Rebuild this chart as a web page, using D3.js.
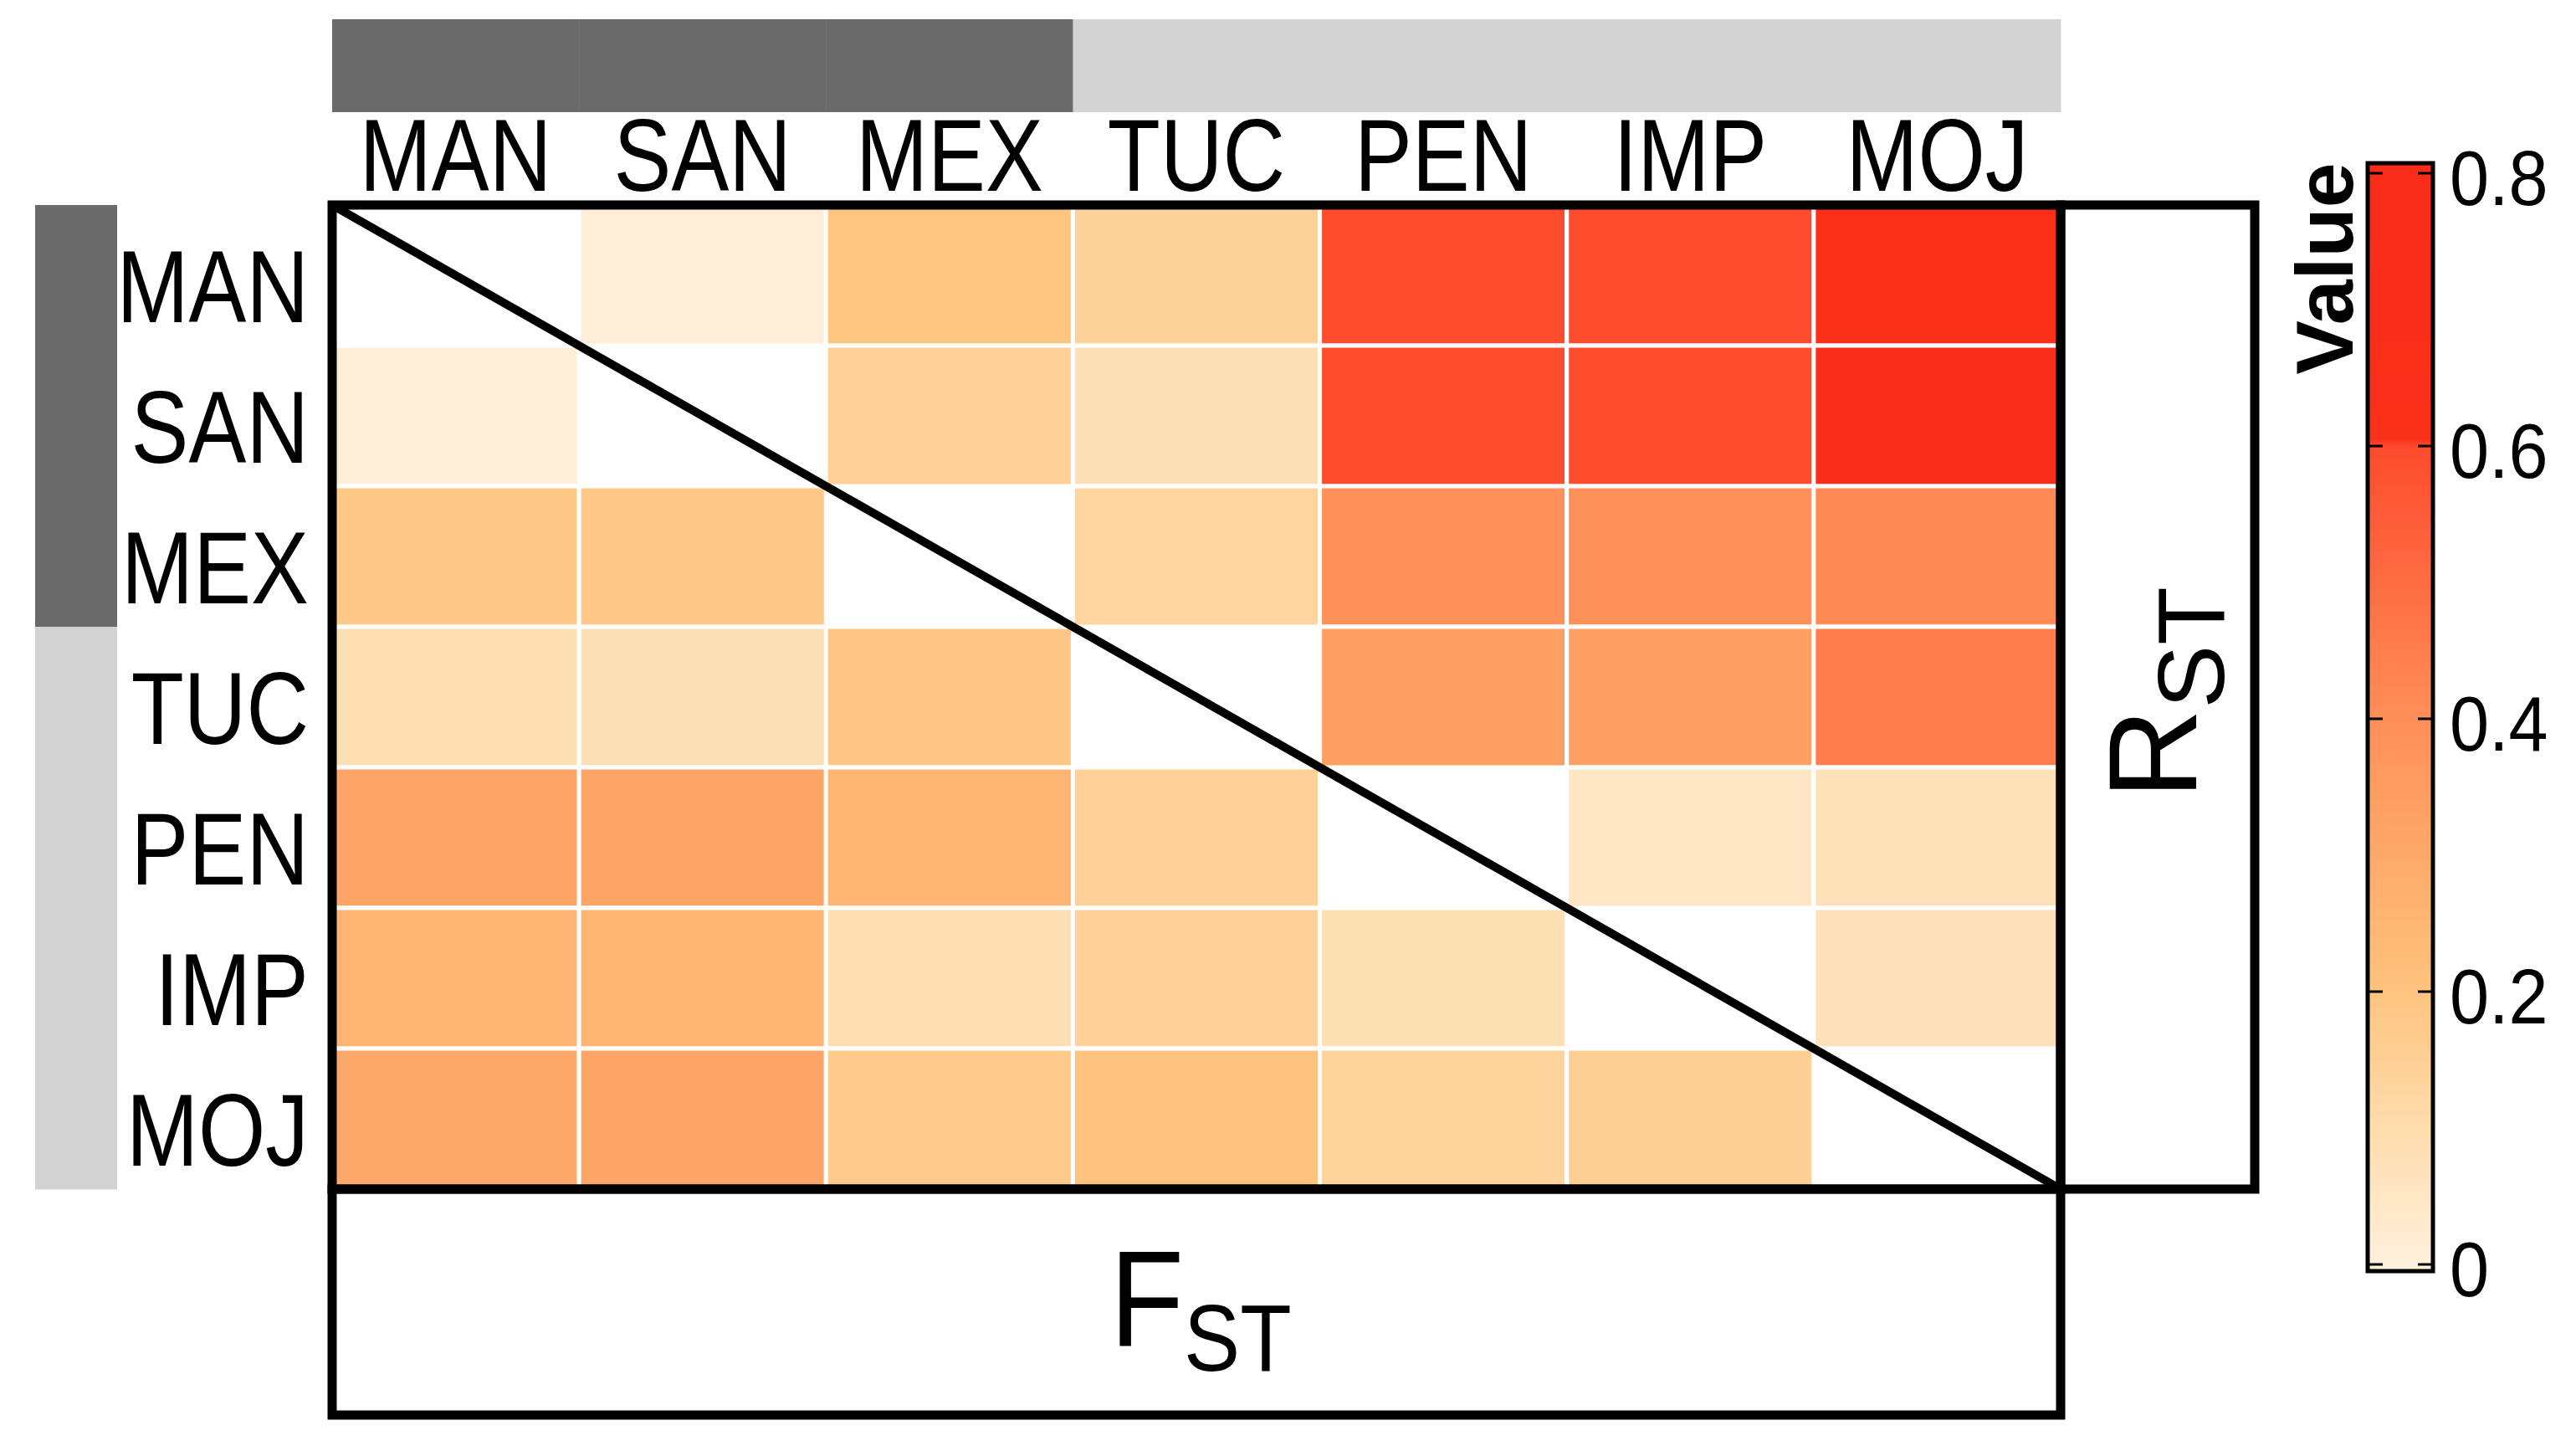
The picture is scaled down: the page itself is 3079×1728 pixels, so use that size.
<!DOCTYPE html>
<html><head><meta charset="utf-8">
<script src="https://cdn.jsdelivr.net/npm/d3@7"></script>
<style>html,body{margin:0;padding:0;background:#fff;} svg{display:block}</style>
</head><body>
<svg id="chart" width="3079" height="1728"></svg>
<script>
// ---------------- data ----------------
const populations = ["MAN","SAN","MEX","TUC","PEN","IMP","MOJ"];
const popGroups   = ["G1","G1","G1","G2","G2","G2","G2"];
const groupColors = {G1:"#6a6a6a", G2:"#d3d3d3"};
// upper triangle = RST, lower triangle = FST (diagonal empty)
const rowMAN = [null, 0.01, 0.195, 0.14, 0.598, 0.598, 0.66];
const rowSAN = [0.01, null, 0.145, 0.08, 0.598, 0.598, 0.70];
const rowMEX = [0.185, 0.185, null, 0.13, 0.395, 0.395, 0.414];
const rowTUC = [0.088, 0.08, 0.19, null, 0.335, 0.335, 0.454];
const rowPEN = [0.32, 0.32, 0.255, 0.145, null, 0.05, 0.075];
const rowIMP = [0.255, 0.255, 0.085, 0.145, 0.082, null, 0.07];
const rowMOJ = [0.305, 0.31, 0.172, 0.2, 0.135, 0.155, null];
const matrixRows = [rowMAN, rowSAN, rowMEX, rowTUC, rowPEN, rowIMP, rowMOJ];
const colorStops = [0, 0.1, 0.2, 0.3, 0.4, 0.5, 0.6, 0.605, 0.8];
const colorRange = ["#fff0dc","#fedcad","#fec47f","#fea96a","#fe8f58","#fe6c44","#fd4b2e","#fa301b","#f82c19"];
const legendTicks = [0, 0.2, 0.4, 0.6, 0.8];
const legendTickLabels = ["0","0.2","0.4","0.6","0.8"];
const legendTitle = "Value";
const upperLabel = ["R","ST"];
const lowerLabel = ["F","ST"];

// ---------------- layout ----------------
const FONT = "'Liberation Sans', Arial, sans-serif";
const svg = d3.select("#chart");
const M = {left:397, right:2463, top:245, bottom:1421};

const x = d3.scaleBand().domain(populations).range([M.left, M.right]).padding(0);
const y = d3.scaleBand().domain(populations).range([M.top, M.bottom]).padding(0);
const color = d3.scaleLinear().domain(colorStops).range(colorRange).clamp(true);

const cells = [];
matrixRows.forEach((row, i) => row.forEach((v, j) => {
  cells.push({r: populations[i], c: populations[j], v});
}));

// cells
svg.append("g").selectAll("rect").data(cells.filter(d => d.v !== null)).join("rect")
  .attr("x", d => x(d.c)).attr("y", d => y(d.r))
  .attr("width", x.bandwidth()).attr("height", y.bandwidth())
  .attr("fill", d => color(d.v))
  .attr("stroke", "#fff").attr("stroke-width", 5);

// top group bar
svg.append("g").selectAll("rect").data(populations).join("rect")
  .attr("x", d => x(d)).attr("y", 23)
  .attr("width", x.bandwidth() + 0.5).attr("height", 111)
  .attr("fill", (d, i) => groupColors[popGroups[i]]);

// left group bar
svg.append("g").selectAll("rect").data(populations).join("rect")
  .attr("x", 42).attr("y", d => y(d))
  .attr("width", 98).attr("height", y.bandwidth() + 0.5)
  .attr("fill", (d, i) => groupColors[popGroups[i]]);

// column labels
const sx = 0.84;
svg.append("g").selectAll("text").data(populations).join("text")
  .attr("transform", d => `translate(${x(d) + x.bandwidth()/2},228) scale(${sx},1)`)
  .attr("text-anchor", "middle")
  .attr("font-family", FONT).attr("font-size", 123).attr("fill", "#000")
  .text(d => d);

// row labels
svg.append("g").selectAll("text").data(populations).join("text")
  .attr("transform", d => `translate(369,${y(d) + y.bandwidth()/2 + 56}) scale(${sx},1)`)
  .attr("text-anchor", "end")
  .attr("font-family", FONT).attr("font-size", 123).attr("fill", "#000")
  .text(d => d);

// diagonal
svg.append("line")
  .attr("x1", M.left).attr("y1", M.top).attr("x2", M.right).attr("y2", M.bottom)
  .attr("stroke", "#000").attr("stroke-width", 10);

// boxes
const boxes = svg.append("g").attr("fill", "none").attr("stroke", "#000").attr("stroke-width", 11);
boxes.append("rect").attr("x", M.left).attr("y", M.top).attr("width", M.right - M.left).attr("height", M.bottom - M.top);
boxes.append("rect").attr("x", M.right).attr("y", M.top).attr("width", 2695 - M.right).attr("height", M.bottom - M.top);
boxes.append("rect").attr("x", M.left).attr("y", M.bottom).attr("width", M.right - M.left).attr("height", 1691 - M.bottom);

// RST label (rotated)
const rt = svg.append("text")
  .attr("transform", `translate(2625,${(M.top + M.bottom)/2 - 5}) rotate(-90)`)
  .attr("text-anchor", "middle").attr("font-family", FONT).attr("fill", "#000");
rt.append("tspan").attr("font-size", 150).text(upperLabel[0]);
rt.append("tspan").attr("font-size", 114).attr("dy", 33).text(upperLabel[1]);

// FST label
const ft = svg.append("text")
  .attr("transform", `translate(${(M.left + M.right)/2 + 5},1609) scale(0.89,1)`)
  .attr("text-anchor", "middle").attr("font-family", FONT).attr("fill", "#000");
ft.append("tspan").attr("font-size", 163).text(lowerLabel[0]);
ft.append("tspan").attr("font-size", 113).attr("dy", 29).text(lowerLabel[1]);

// ---------------- colorbar ----------------
const ly = d3.scaleLinear().domain([0, 0.8]).range([1511, 207]);
const barX = 2830, barW = 78, barTop = 195, barBot = 1519;
const defs = svg.append("defs");
const grad = defs.append("linearGradient").attr("id", "cbar")
  .attr("x1", 0).attr("y1", 1).attr("x2", 0).attr("y2", 0);
const N = 300;
d3.range(N + 1).forEach(k => {
  const t = k / N;
  const v = ly.invert(barBot - t * (barBot - barTop));
  grad.append("stop").attr("offset", t).attr("stop-color", color(v));
});
svg.append("rect").attr("x", barX).attr("y", barTop).attr("width", barW).attr("height", barBot - barTop)
  .attr("fill", "url(#cbar)").attr("stroke", "#000").attr("stroke-width", 5);

const tg = svg.append("g").attr("stroke", "#000").attr("stroke-width", 3);
legendTicks.forEach(t => {
  tg.append("line").attr("x1", barX + 2).attr("x2", barX + 18).attr("y1", ly(t)).attr("y2", ly(t));
  tg.append("line").attr("x1", barX + barW - 18).attr("x2", barX + barW - 2).attr("y1", ly(t)).attr("y2", ly(t));
});

svg.append("g").selectAll("text").data(legendTicks).join("text")
  .attr("transform", d => `translate(2928,${ly(d) + 38}) scale(0.92,1)`)
  .attr("font-family", FONT).attr("font-size", 92).attr("fill", "#000")
  .text((d, i) => legendTickLabels[i]);

svg.append("text")
  .attr("transform", `translate(2812,321) rotate(-90)`)
  .attr("text-anchor", "middle").attr("font-family", FONT)
  .attr("font-weight", "bold").attr("font-size", 97).attr("fill", "#000")
  .text(legendTitle);
</script>
</body></html>
